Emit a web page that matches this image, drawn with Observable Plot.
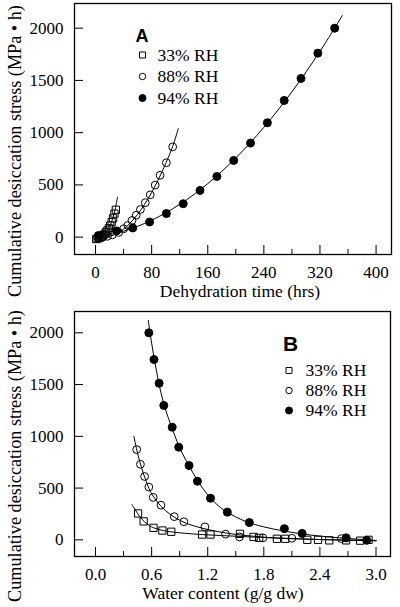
<!DOCTYPE html>
<html><head><meta charset="utf-8">
<script src="https://cdn.jsdelivr.net/npm/d3@7"></script>
<script src="https://cdn.jsdelivr.net/npm/@observablehq/plot@0.6"></script>
<style>
html,body{margin:0;padding:0;background:#fff;}
#chart svg{display:block;}
</style></head><body><div id="chart"></div>
<script>
// ---------- shared ----------
const seriesNames = ["33% RH", "88% RH", "94% RH"];
const yTitle = "Cumulative desiccation stress (MPa \u2022 h)";
const yTicks = [0, 500, 1000, 1500, 2000];

// ---------- Panel A : stress vs dehydration time ----------
const xTitleA = "Dehydration time (hrs)";
const xTicksA = [0, 80, 160, 240, 320, 400];
const xMinorA = [40, 120, 200, 280, 360];
const timeA33   = [1, 3, 5, 7, 9, 11, 13, 15, 17, 19, 21, 23, 25, 27, 29];
const stressA33 = [-18, -13, -7, 0, 8, 18, 31, 47, 64, 85, 111, 144, 180, 225, 262];
const timeA88   = [3, 10, 17, 24, 33, 40, 46, 52, 58, 64, 71, 78, 85, 92, 101, 110];
const stressA88 = [0, 0, 8, 22, 45, 80, 112, 160, 210, 265, 330, 405, 498, 592, 712, 864];
const timeA94   = [4, 30, 53, 77, 101, 125, 149, 173, 197, 221, 245, 269, 293, 317, 341];
const stressA94 = [15, 60, 88, 145, 226, 320, 447, 581, 734, 900, 1095, 1308, 1519, 1761, 2000];
// fitted curves
const fitTimeA33   = [0, 5, 10, 15, 20, 25, 28, 31.3];
const fitStressA33 = [-20, -7, 13, 47, 100, 189, 267, 383];
const fitTimeA88   = [0, 10, 20, 30, 40, 50, 60, 70, 80, 90, 100, 110, 118];
const fitStressA88 = [-5, -3, 8, 32, 77, 139, 218, 314, 427, 557, 704, 868, 1040];
const fitTimeA94   = [0, 40, 80, 120, 160, 200, 240, 280, 320, 352];
const fitStressA94 = [0, 57, 162, 314, 512, 758, 1051, 1391, 1778, 2122];

// ---------- Panel B : stress vs water content ----------
const xTitleB = "Water content (g/g dw)";
const xTicksB = [0, 0.6, 1.2, 1.8, 2.4, 3.0];
const xMinorB = [0.3, 0.9, 1.5, 2.1, 2.7];
const wcB33     = [0.455, 0.515, 0.62, 0.715, 0.81, 1.14, 1.23, 1.545, 1.69, 1.75, 1.94, 2.03, 2.265, 2.38, 2.5, 2.68, 2.83, 2.92];
const stressB33 = [255, 178, 116, 90, 78, 51, 51, 58, 28, 19, 10, 10, 0, 0, -5, -5, -8, 0];
const wcB88     = [0.44, 0.48, 0.525, 0.57, 0.617, 0.70, 0.842, 0.945, 1.17, 1.39, 1.54, 1.79, 2.10, 2.63];
const stressB88 = [872, 730, 612, 510, 410, 335, 224, 175, 125, 55, 28, 19, 15, 12];
const wcB94     = [0.57, 0.625, 0.68, 0.73, 0.82, 0.89, 1.0, 1.09, 1.23, 1.41, 1.645, 2.02, 2.21, 2.68, 2.90];
const stressB94 = [2000, 1742, 1513, 1298, 1088, 895, 718, 566, 402, 267, 167, 108, 62, 19, -5];
const fitWcB33     = [0.39, 0.45, 0.5, 0.55, 0.6, 0.7, 0.8, 1.0, 1.2, 1.5, 1.8, 2.1, 2.4, 2.7, 3.0];
const fitStressB33 = [340, 255, 195, 155, 125, 95, 78, 60, 48, 35, 22, 12, 3, -4, -10];
const fitWcB88     = [0.41, 0.45, 0.5, 0.55, 0.6, 0.7, 0.8, 0.9, 1.0, 1.2, 1.4, 1.6, 1.8, 2.0, 2.4, 2.8, 3.0];
const fitStressB88 = [1000, 835, 675, 545, 445, 325, 245, 190, 150, 100, 65, 42, 26, 15, 3, -4, -7];
const fitWcB94     = [0.564, 0.6, 0.65, 0.7, 0.75, 0.8, 0.9, 1.0, 1.1, 1.2, 1.3, 1.4, 1.6, 1.8, 2.0, 2.2, 2.4, 2.6, 2.8, 3.0];
const fitStressB94 = [2120, 1900, 1640, 1420, 1255, 1125, 890, 715, 560, 435, 340, 272, 180, 125, 88, 58, 36, 20, 6, -6];

// ---------- helpers ----------
const zip = (xs, ys) => xs.map((x, i) => ({x, y: ys[i]}));
const symbols = ["square", "circle", "circle"];
const fills = ["none", "none", "black"];
const dotR = [4.1, 3.9, 4.0];
const legendR = [3.4, 3.2, 3.5];
const serif = "'Liberation Serif','Times New Roman',serif";
const sans = "'Liberation Sans',Arial,sans-serif";

function panel(o) {
  const marks = [
    Plot.frame({stroke: "black", strokeWidth: 1.3}),
    Plot.axisY({ticks: yTicks, tickSize: -9, tickPadding: 20, label: null, tickFormat: d => String(d), fontSize: 17, fontFamily: serif}),
    Plot.axisX({ticks: o.xMajor, tickSize: -9, tickPadding: 20, label: null, tickFormat: o.xFormat, fontSize: 17, fontFamily: serif}),
    Plot.axisX({ticks: o.xMinor, tickSize: -5, tickPadding: 0, label: null, tickFormat: () => ""})
  ];
  o.fits.forEach(f => marks.push(Plot.line(f, {x: "x", y: "y", stroke: "black", strokeWidth: 1, curve: "catmull-rom"})));
  o.points.forEach((p, i) => marks.push(Plot.dot(p, {x: "x", y: "y", symbol: symbols[i], r: dotR[i], stroke: "black", strokeWidth: 1, fill: fills[i]})));
  marks.push(Plot.text([yTitle], {frameAnchor: "left", textAnchor: "middle", lineAnchor: "middle", rotate: -90, dx: -59, dy: o.yTitleDy, fontSize: 18.2, fontFamily: serif}));
  marks.push(Plot.text([o.xTitle], {frameAnchor: "bottom", textAnchor: "middle", lineAnchor: "middle", dx: o.xTitleDx, dy: o.xTitleDy, fontSize: 17.5, fontFamily: serif}));
  marks.push(Plot.text([o.letter], {frameAnchor: "top-left", textAnchor: "middle", lineAnchor: "middle", dx: o.letterDx, dy: o.letterDy, fontFamily: sans, fontWeight: "bold", fontSize: o.letterSize}));
  seriesNames.forEach((name, i) => {
    marks.push(Plot.dot([name], {frameAnchor: "top-left", dx: o.symDx, dy: o.rowTop + i * o.rowGap, symbol: symbols[i], r: legendR[i], stroke: "black", strokeWidth: 1, fill: fills[i]}));
    marks.push(Plot.text([name], {frameAnchor: "top-left", dx: o.textDx, dy: o.rowTop + i * o.rowGap, textAnchor: "start", lineAnchor: "middle", fontSize: 17.5, fontFamily: serif}));
  });
  return Plot.plot({
    width: 400, height: o.height,
    marginLeft: 74, marginRight: o.marginRight, marginTop: o.marginTop, marginBottom: o.marginBottom,
    x: {domain: o.xDomain}, y: {domain: o.yDomain},
    style: {fontFamily: serif, fontSize: "17px", color: "black", background: "white"},
    marks
  });
}

const chartA = panel({
  height: 300, marginTop: 3, marginBottom: 46, marginRight: 9,
  xDomain: [-30, 422], yDomain: [-166, 2236],
  xMajor: xTicksA, xMinor: xMinorA, xFormat: d => String(d),
  fits: [zip(fitTimeA33, fitStressA33), zip(fitTimeA88, fitStressA88), zip(fitTimeA94, fitStressA94)],
  points: [zip(timeA33, stressA33), zip(timeA88, stressA88), zip(timeA94, stressA94)],
  yTitleDy: 22, xTitle: xTitleA, xTitleDx: 7, xTitleDy: 36.5,
  letter: "A", letterDx: 67.5, letterDy: 33, letterSize: 18,
  symDx: 68, textDx: 83, rowTop: 51.5, rowGap: 21.5
});
const chartB = panel({
  height: 307, marginTop: 11, marginBottom: 51, marginRight: 10,
  xDomain: [-0.225, 3.155], yDomain: [-161, 2206],
  xMajor: xTicksB, xMinor: xMinorB, xFormat: d => d.toFixed(1),
  fits: [zip(fitWcB33, fitStressB33), zip(fitWcB88, fitStressB88), zip(fitWcB94, fitStressB94)],
  points: [zip(wcB33, stressB33), zip(wcB88, stressB88), zip(wcB94, stressB94)],
  yTitleDy: 22, xTitle: xTitleB, xTitleDx: -9.5, xTitleDy: 37,
  letter: "B", letterDx: 216, letterDy: 33, letterSize: 21,
  symDx: 214.5, textDx: 231, rowTop: 59, rowGap: 20
});
document.getElementById("chart").append(chartA, chartB);
</script>
</body></html>
